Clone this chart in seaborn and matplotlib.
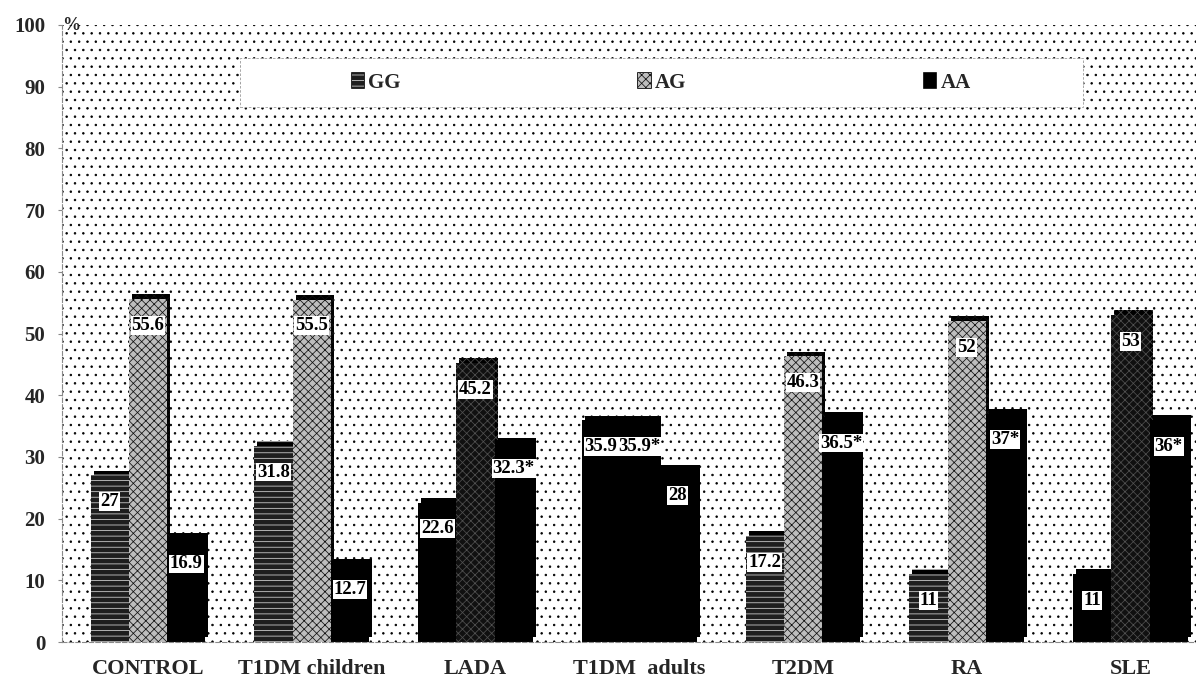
import numpy as np
import pandas as pd
import matplotlib
matplotlib.use("Agg")
import matplotlib.pyplot as plt
import matplotlib.patches as mpatches
import matplotlib.patheffects as pe
import seaborn as sns

# Genotype frequencies (%) per study group
groups = ["CONTROL", "T1DM children", "LADA", "T1DM  adults", "T2DM", "RA", "SLE"]
genotypes = ["GG", "AG", "AA"]
gg = [27, 31.8, 22.6, 35.9, 17.2, 11, 11]
ag = [55.6, 55.5, 45.2, 35.9, 46.3, 52, 53]
aa = [16.9, 12.7, 32.3, 28, 36.5, 37, 36]
# frequencies flagged as significantly different from control (*)
sig_gg = [False, False, False, False, False, False, False]
sig_ag = [False, False, False, True, False, False, False]
sig_aa = [False, False, True, False, True, True, True]
y_ticks = list(range(0, 101, 10))

sns.set_style("white")
plt.rcParams["font.family"] = ["Liberation Serif", "DejaVu Serif"]
plt.rcParams["font.weight"] = "bold"
plt.rcParams["hatch.linewidth"] = 0.55

df = pd.concat(
    [pd.DataFrame({"group": groups, "genotype": g, "pct": v})
     for g, v in zip(genotypes, [gg, ag, aa])],
    ignore_index=True,
)

fig = plt.figure(figsize=(11.96, 6.81), dpi=100)
ax = fig.add_axes([62 / 1196, 39 / 681, 1134 / 1196, 617 / 681])

# dotted plot-area background
ax.add_patch(mpatches.Rectangle((0, 0), 1, 1, transform=ax.transAxes,
                                facecolor="white", edgecolor="black",
                                hatch="..", linewidth=0, zorder=0))

sns.barplot(data=df, x="group", y="pct", hue="genotype", order=groups,
            hue_order=genotypes, width=0.7, gap=0, saturation=1,
            palette=["#2b2b2b", "#cfcfcf", "black"], legend=False, ax=ax,
            zorder=2)

# fill styles: (face, hatch, hatch colour)
fills = {
    "GG": ("#1e1e1e", "---", "#d8d8d8"),
    "AG": ("#bdbdbd", "xxxx", "#111111"),
    "AA": ("black", None, "black"),
}
solid_black = {("LADA", "GG"), ("T1DM  adults", "GG"), ("T1DM  adults", "AG"),
               ("SLE", "GG")}
dark_texture = {("LADA", "AG"), ("SLE", "AG")}

sigs = {"GG": sig_gg, "AG": sig_ag, "AA": sig_aa}
vals = {"GG": gg, "AG": ag, "AA": aa}
# black offset copy gives each column its top face and side
depth = [pe.SimplePatchShadow(offset=(2.2, 3.4), shadow_rgbFace="black",
                              alpha=1.0), pe.Normal()]

for geno, cont in zip(genotypes, ax.containers):
    for grp, bar in zip(groups, cont.patches):
        face, hatch, hcol = fills[geno]
        if (grp, geno) in solid_black:
            face, hatch, hcol = "black", None, "black"
        elif (grp, geno) in dark_texture:
            face, hatch, hcol = "#101010", "xxxx", "#505050"
        bar.set_facecolor(face)
        bar.set_hatch(hatch)
        bar.set_edgecolor(hcol)
        bar.set_linewidth(0)
        bar.set_path_effects(depth)
    labels = [f"{v:g}" + ("*" if s else "") for v, s in zip(vals[geno], sigs[geno])]
    ax.bar_label(cont, labels=labels, padding=-25, fontsize=13.5,
                 fontweight="bold", color="black", zorder=5,
                 bbox=dict(boxstyle="square,pad=0.05", fc="white", ec="none"))

# legend panel
ax.add_patch(mpatches.Rectangle((0.157, 0.867), 0.743, 0.079,
                                transform=ax.transAxes, facecolor="white",
                                edgecolor="#9a9a9a", linewidth=0.6,
                                linestyle=(0, (3, 2)), zorder=3))
handles = [mpatches.Patch(facecolor=fills[g][0], hatch=fills[g][1],
                          edgecolor=fills[g][2], linewidth=0) for g in genotypes]
leg = ax.legend(handles, genotypes, loc="center", bbox_to_anchor=(0.5285, 0.906),
                ncol=3, frameon=False, fontsize=15, handlelength=0.6,
                handleheight=0.75, handletextpad=0.2, columnspacing=11.4)
leg.set_zorder(4)
for lh in leg.legend_handles:
    lh.set_path_effects([pe.withStroke(linewidth=1.2, foreground="black")])

ax.set_ylim(0, 100)
ax.set_xlim(-0.525, 6.40)
ax.set_yticks(y_ticks)
ax.set_yticklabels([str(t) for t in y_ticks], fontsize=15, fontweight="bold")
ax.set_xticks(range(len(groups)))
ax.set_xticklabels(groups, fontsize=16, fontweight="bold")
ax.set_xticks(np.arange(len(groups) - 1) + 0.5, minor=True)
ax.tick_params(axis="x", which="major", length=0, pad=12)
ax.tick_params(axis="x", which="minor", length=3, color="#888888", direction="out")
ax.tick_params(axis="y", length=3, color="#888888", pad=9, left=True)
ax.set_xlabel("")
ax.set_ylabel("")

for side in ("top", "right"):
    ax.spines[side].set_visible(False)
for side in ("left", "bottom"):
    ax.spines[side].set_color("#8a8a8a")
    ax.spines[side].set_linewidth(0.8)
    ax.spines[side].set_linestyle((0, (4, 2)))

ax.text(0.0, 1.0, "%", transform=ax.transAxes, fontsize=13, fontweight="bold",
        ha="left", va="center")

fig.savefig("out.png", dpi=100)
